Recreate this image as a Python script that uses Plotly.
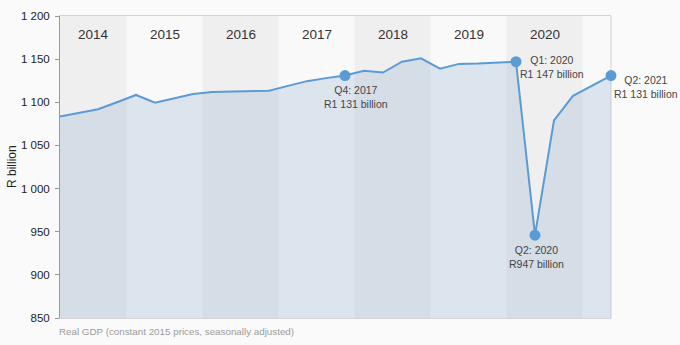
import plotly.graph_objects as go

# Quarterly real GDP, R billion (Q1 2014 .. Q2 2021)
quarters = [f"Q{q}: {y}" for y in range(2014, 2022) for q in range(1, 5)][:30]
gdp = [1083.5, 1088, 1092, 1100, 1108.5, 1099.5, 1104.5, 1109.5,
       1112, 1112.5, 1113, 1113.5, 1119, 1124.5, 1128, 1131,
       1136.5, 1134.5, 1147, 1151, 1139, 1144.5, 1145, 1146,
       1147, 946, 1079, 1107.5, 1119.5, 1131]
years = [2014, 2015, 2016, 2017, 2018, 2019, 2020, 2021]
highlight = ["Q4: 2017", "Q1: 2020", "Q2: 2020", "Q2: 2021"]
highlight_text = ["Q4: 2017<br>R1 131 billion", "Q1: 2020<br>R1 147 billion",
                  "Q2: 2020<br>R947 billion", "Q2: 2021<br>R1 131 billion"]
ytick_vals = [850, 900, 950, 1000, 1050, 1100, 1150, 1200]
ytick_text = ["850", "900", "950", "1 000", "1 050", "1 100", "1 150", "1 200"]

x = list(range(len(gdp)))
xmax = len(gdp) - 1
FONT = "Liberation Sans, Arial, sans-serif"
BLUE = "#5b9bd5"

fig = go.Figure()
fig.add_trace(go.Scatter(
    x=x, y=gdp, mode="lines", fill="tozeroy",
    fillcolor="rgba(160,185,215,0.32)",
    line=dict(color=BLUE, width=2), hoverinfo="skip", showlegend=False))

hx = [quarters.index(h) for h in highlight]
hy = [gdp[i] for i in hx]
fig.add_trace(go.Scatter(
    x=hx, y=hy, mode="markers", marker=dict(color=BLUE, size=11),
    showlegend=False, hoverinfo="skip", cliponaxis=False))

shapes = []
annotations = []
for k, yr in enumerate(years):
    x0 = max(0, k * 4 - 0.5)
    x1 = min(xmax, k * 4 + 3.5)
    if k % 2 == 0:
        shapes.append(dict(type="rect", xref="x", yref="paper", x0=x0, x1=x1,
                           y0=0, y1=1, fillcolor="#efefef", line_width=0,
                           layer="below"))
    if yr < 2021:
        annotations.append(dict(x=(x0 + x1) / 2, y=1, xref="x", yref="paper",
                                yanchor="middle", yshift=-18, showarrow=False,
                                text=str(yr),
                                font=dict(size=13.5, color="#333", family=FONT)))
# right frame edge
shapes.append(dict(type="line", xref="paper", yref="paper", x0=1, x1=1, y0=0, y1=1,
                   line=dict(color="#cfcfcf", width=1), layer="below"))

offsets = {"Q4: 2017": (11, -6, "top"), "Q1: 2020": (36, -5, "middle"),
           "Q2: 2020": (1, -7, "top"), "Q2: 2021": (35, -11, "middle")}
for h, t, xi, yi in zip(highlight, highlight_text, hx, hy):
    dx, dy, ya = offsets[h]
    annotations.append(dict(x=xi, y=yi, xref="x", yref="y", text=t, showarrow=False,
                            xshift=dx, yshift=dy, yanchor=ya, align="center",
                            font=dict(size=10.5, color="#444", family=FONT)))

annotations.append(dict(x=0, y=0, xref="paper", yref="paper", xanchor="left",
                        yanchor="top", xshift=-3, yshift=-6, showarrow=False,
                        text="Real GDP (constant 2015 prices, seasonally adjusted)",
                        font=dict(size=9.8, color="#9a9a9a", family=FONT)))
# y-axis title
annotations.append(dict(x=0, y=0.5, xref="paper", yref="paper", xanchor="center",
                        yanchor="middle", xshift=-48, showarrow=False, textangle=-90,
                        text="R billion", font=dict(size=12, color="#222", family=FONT)))

fig.update_layout(
    width=680, height=345,
    margin=dict(l=60, r=69, t=16, b=27, autoexpand=False),
    paper_bgcolor="#fafafa", plot_bgcolor="#f9f9f9",
    shapes=shapes, annotations=annotations,
    font=dict(family=FONT, color="#222"),
    xaxis=dict(range=[0, xmax], showgrid=False, zeroline=False, showticklabels=False,
               ticks="", showline=True, linecolor="#d3d3d3", linewidth=1, mirror=True,
               automargin=False),
    yaxis=dict(range=[850, 1200], tickvals=ytick_vals, ticktext=ytick_text,
               showgrid=False, zeroline=False, showline=True, linecolor="#999",
               linewidth=1, ticks="outside", ticklen=4, tickcolor="#999",
               automargin=False, ticklabelstandoff=3,
               tickfont=dict(size=11.5, color="#222", family=FONT)),
)

fig.write_html("out.html")
